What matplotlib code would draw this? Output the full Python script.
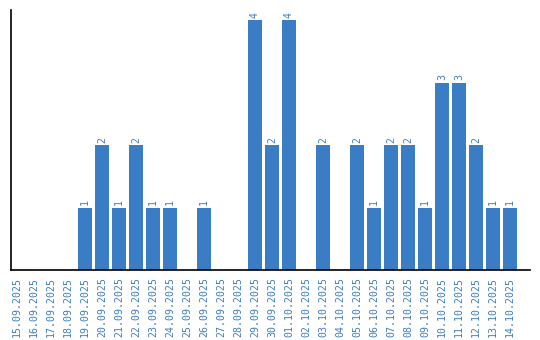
import matplotlib
matplotlib.use("Agg")
import matplotlib.pyplot as plt

dates = ["15.09.2025", "16.09.2025", "17.09.2025", "18.09.2025", "19.09.2025",
         "20.09.2025", "21.09.2025", "22.09.2025", "23.09.2025", "24.09.2025",
         "25.09.2025", "26.09.2025", "27.09.2025", "28.09.2025", "29.09.2025",
         "30.09.2025", "01.10.2025", "02.10.2025", "03.10.2025", "04.10.2025",
         "05.10.2025", "06.10.2025", "07.10.2025", "08.10.2025", "09.10.2025",
         "10.10.2025", "11.10.2025", "12.10.2025", "13.10.2025", "14.10.2025"]
counts = [0, 0, 0, 0, 1, 2, 1, 2, 1, 1, 0, 1, 0, 0, 4, 2, 4, 0, 2, 0,
          2, 1, 2, 2, 1, 3, 3, 2, 1, 1]

color = "#3b7dc4"
fig = plt.figure(figsize=(5.4, 3.4), dpi=100)
ax = fig.add_axes([11/540, 70/340, 519/540, 260/340])
x = list(range(len(dates)))
ax.bar(x, counts, width=0.8, color=color)
for xi, v in zip(x, counts):
    if v > 0:
        ax.text(xi, v + 0.04, str(v), rotation=90, ha="center", va="bottom",
                color=color, fontsize=7.1, family="DejaVu Sans Mono")
ax.set_xlim(-0.353, 30.18)
ax.set_ylim(0, 4.16)
ax.set_xticks(x)
ax.set_xticklabels(dates, rotation=90, color=color, fontsize=7.1, family="DejaVu Sans Mono")
ax.tick_params(axis="x", length=0, pad=5)
ax.set_yticks([])
for s in ["top", "right"]:
    ax.spines[s].set_visible(False)
ax.spines["left"].set_linewidth(1.2)
ax.spines["bottom"].set_linewidth(1.2)
fig.savefig("out.png", dpi=100)
